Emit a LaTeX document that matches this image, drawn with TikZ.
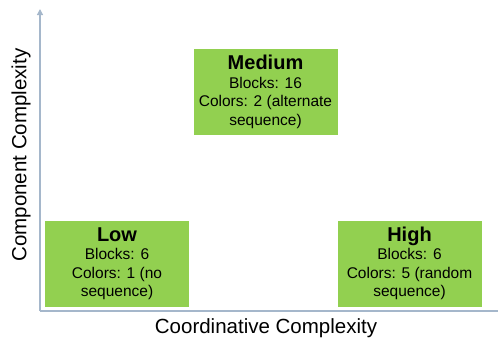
\documentclass[tikz,border=0pt]{standalone}
\usepackage{fontspec}
\setmainfont{Liberation Sans}
\usetikzlibrary{arrows.meta}
\definecolor{boxgreen}{RGB}{146,208,80}
\definecolor{axisgray}{RGB}{165,183,203}
\begin{document}
\begin{tikzpicture}[x=1pt,y=-1pt,
  quad/.style={fill=boxgreen, minimum width=144pt, minimum height=86pt, inner sep=0pt, align=center, text=black,
    font=\fontsize{15.5}{18.5}\selectfont},
  title/.style={font=\fontsize{20}{22}\selectfont\bfseries},
  axislabel/.style={font=\fontsize{20.5}{24}\selectfont, text=black},
  axisline/.style={draw=axisgray, line width=1.3pt}]
\useasboundingbox (0,0) rectangle (498,341);
\coordinate (origin) at (40,311);
\coordinate (ytop) at (40,9);
\coordinate (xend) at (498,311);
\draw[axisline, -{Triangle[length=6pt,width=6pt]}] (origin) -- (ytop);
\draw[axisline] (origin) -- (xend);
\node[quad] (medium) at (265.5,92) {{\fontsize{20}{22}\selectfont\bfseries Medium}\\Blocks: 16\\Colors: 2 (alternate\\sequence)};
\node[quad] (low) at (117,263.5) {{\fontsize{20}{22}\selectfont\bfseries Low}\\Blocks: 6\\Colors: 1 (no\\sequence)};
\node[quad] (high) at (409.5,263.5) {{\fontsize{20}{22}\selectfont\bfseries High}\\Blocks: 6\\Colors: 5 (random\\sequence)};
\node[axislabel] (xlabel) at (266,328) {Coordinative Complexity};
\node[axislabel, rotate=90] (ylabel) at (21,155) {Component Complexity};
\end{tikzpicture}
\end{document}
